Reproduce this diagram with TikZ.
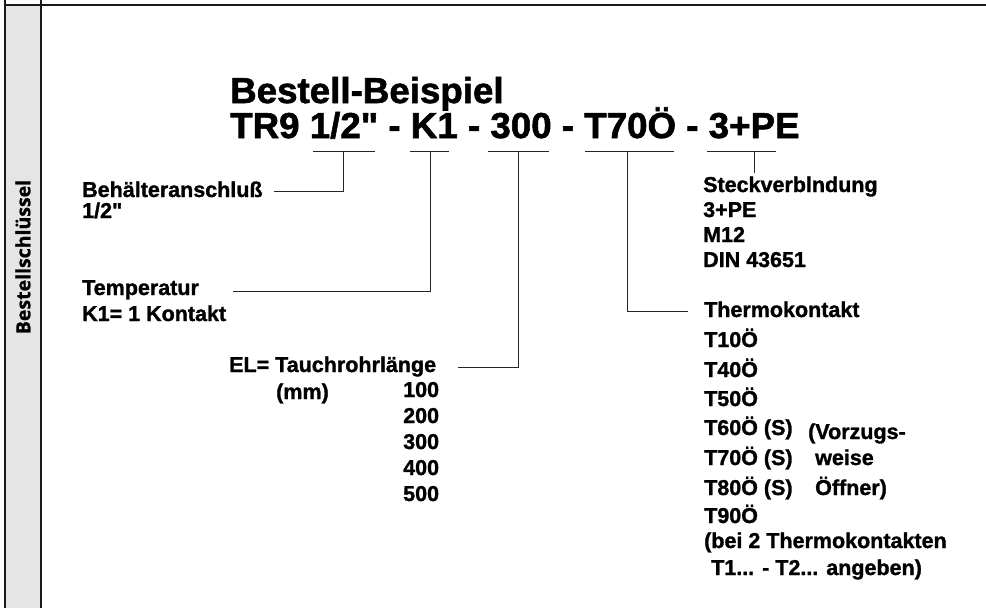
\documentclass[tikz,border=0pt]{standalone}
\usepackage{fontspec}
\setmainfont{Liberation Sans}
\newfontfamily\bodyf{Liberation Sans}[BoldFeatures={FakeBold=1.3}]
\newfontfamily\titlef{Liberation Sans}[FakeStretch=1.02,BoldFeatures={FakeBold=1.6}]
\newfontfamily\sidef{Open Sans}[BoldFeatures={FakeBold=0.8}]
\begin{document}
\begin{tikzpicture}[x=1pt,y=-1pt,
  txt/.style={anchor=base west, inner sep=0pt, font=\bodyf\bfseries\fontsize{21.5}{23}\selectfont},
  ttl/.style={anchor=base west, inner sep=0pt, font=\titlef\bfseries\fontsize{36}{40}\selectfont},
  ln/.style={line width=0.8pt, draw=black!85},
  frame/.style={line width=1.5pt, draw=black!90}]
\useasboundingbox (0,0) rectangle (986,608);
% side strip
\fill[black!10] (5,5) rectangle (41,608);
\draw[frame] (5,0) -- (5,608);
\draw[frame] (41,0) -- (41,608);
\draw[frame] (5,5) -- (986,5);
\node[rotate=90, font=\sidef\bfseries\fontsize{19.5}{21}\selectfont, inner sep=0pt] (side) at (23,257) {Bestellschlüssel};
% title
\node[ttl] (title) at (230,103) {Bestell-Beispiel};
\node[ttl] (code) at (230,138) {TR9 1/2" - K1 - 300 - T70Ö - 3+PE};
% left texts
\node[txt] (beh) at (82,197) {Behälteranschluß};
\node[txt] (beh2) at (82,218) {1/2"};
\node[txt] (tmp) at (82,295) {Temperatur};
\node[txt] (tmp2) at (82,321) {K1= 1 Kontakt};
\node[txt] (el) at (229,372) {EL= Tauchrohrlänge};
\node[txt] (mm) at (276,399) {(mm)};
\node[txt] (l100) at (403,397) {100};
\node[txt] (l200) at (403,423) {200};
\node[txt] (l300) at (403,449) {300};
\node[txt] (l400) at (403,475) {400};
\node[txt] (l500) at (403,501) {500};
% right texts
\node[txt] (st) at (703,192) {Steckverblndung};
\node[txt] (st2) at (703,217) {3+PE};
\node[txt] (st3) at (703,242) {M12};
\node[txt] (st4) at (703,267) {DIN 43651};
\node[txt] (th) at (704,317) {Thermokontakt};
\node[txt] (t10) at (704,347) {T10Ö};
\node[txt] (t40) at (704,377) {T40Ö};
\node[txt] (t50) at (704,406) {T50Ö};
\node[txt] (t60) at (704,435) {T60Ö (S)};
\node[txt] (t70) at (704,465) {T70Ö (S)};
\node[txt] (t80) at (704,495) {T80Ö (S)};
\node[txt] (t90) at (704,523) {T90Ö};
\node[txt] (vz1) at (808,439) {(Vorzugs-};
\node[txt] (vz2) at (815,465) {weise};
\node[txt] (vz3) at (815,495) {Öffner)};
\node[txt] (bei1) at (704,548) {(bei 2 Thermokontakten};
\node[txt] (bei2) at (711,575) {T1... - T2... angeben)};
% connector coordinates
\coordinate (u1L) at (313,151); \coordinate (u1R) at (375,151); \coordinate (u1M) at (343,151); \coordinate (e1) at (274,191);
\coordinate (u2L) at (410,151); \coordinate (u2R) at (449,151); \coordinate (u2M) at (430,151); \coordinate (e2) at (233,291);
\coordinate (u3L) at (488,151); \coordinate (u3R) at (549,151); \coordinate (u3M) at (518,151); \coordinate (e3) at (458,367);
\coordinate (u4L) at (585,151); \coordinate (u4R) at (674,151); \coordinate (u4M) at (627,151); \coordinate (e4) at (688,311);
\coordinate (u5L) at (707,151); \coordinate (u5R) at (776,151); \coordinate (u5M) at (754,151); \coordinate (e5) at (754,173);
\draw[ln] (u1L) -- (u1R); \draw[ln] (u1M) |- (e1);
\draw[ln] (u2L) -- (u2R); \draw[ln] (u2M) |- (e2);
\draw[ln] (u3L) -- (u3R); \draw[ln] (u3M) |- (e3);
\draw[ln] (u4L) -- (u4R); \draw[ln] (u4M) |- (e4);
\draw[ln] (u5L) -- (u5R); \draw[ln] (u5M) -- (e5);
\end{tikzpicture}
\end{document}
